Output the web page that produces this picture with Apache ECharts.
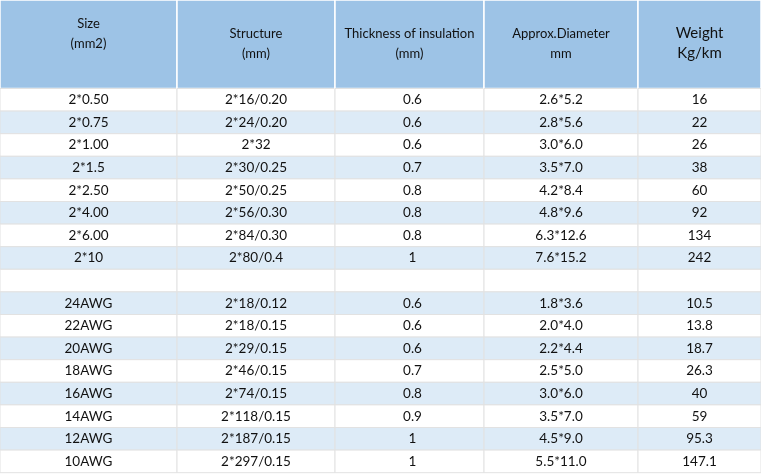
<!DOCTYPE html>
<html>
<head>
<meta charset="utf-8">
<script src="https://cdn.jsdelivr.net/npm/echarts@6/dist/echarts.min.js"></script>
<style>
html,body{margin:0;padding:0;background:#fff;}
#main{width:761px;height:474px;}
</style>
</head>
<body>
<div id="main"></div>
<script>
// ---- data ----
const headers = ['Size\n(mm2)', 'Structure\n(mm)', 'Thickness of insulation\n(mm)', 'Approx.Diameter\nmm', 'Weight\nKg/km'];
const sizes = ['2*0.50','2*0.75','2*1.00','2*1.5','2*2.50','2*4.00','2*6.00','2*10','','24AWG','22AWG','20AWG','18AWG','16AWG','14AWG','12AWG','10AWG'];
const structures = ['2*16/0.20','2*24/0.20','2*32','2*30/0.25','2*50/0.25','2*56/0.30','2*84/0.30','2*80/0.4','','2*18/0.12','2*18/0.15','2*29/0.15','2*46/0.15','2*74/0.15','2*118/0.15','2*187/0.15','2*297/0.15'];
const thickness = ['0.6','0.6','0.6','0.7','0.8','0.8','0.8','1','','0.6','0.6','0.6','0.7','0.8','0.9','1','1'];
const diameters = ['2.6*5.2','2.8*5.6','3.0*6.0','3.5*7.0','4.2*8.4','4.8*9.6','6.3*12.6','7.6*15.2','','1.8*3.6','2.0*4.0','2.2*4.4','2.5*5.0','3.0*6.0','3.5*7.0','4.5*9.0','5.5*11.0'];
const weights = ['16','22','26','38','60','92','134','242','','10.5','13.8','18.7','26.3','40','59','95.3','147.1'];

// ---- layout / style ----
const columns = [sizes, structures, thickness, diameters, weights];
const colEdges = [0, 177, 335, 484, 638, 761];
const headerH = 88.5;
const rowH = 22.6;
const headerDy = [-10, 0, 0, 0, -1];
const headerFontSize = [13, 13, 13, 13, 15];
const dataDx = [0, 0, 3, 0, 0];
const FONT = 'Lato, "Open Sans", sans-serif';

const cells = [];
for (let c = 0; c < columns.length; c++) {
  cells.push([c, -1, headers[c]]);
  for (let r = 0; r < sizes.length; r++) cells.push([c, r, columns[c][r]]);
}

const chart = echarts.init(document.getElementById('main'), null, {renderer: 'canvas'});
chart.setOption({
  animation: false,
  backgroundColor: '#ffffff',
  grid: {left: 0, right: 0, top: 0, bottom: 0},
  xAxis: {type: 'value', min: 0, max: 761, show: false},
  yAxis: {type: 'value', min: 0, max: 474, inverse: true, show: false},
  series: [{
    type: 'custom',
    coordinateSystem: 'cartesian2d',
    data: cells,
    renderItem: function (params, api) {
      const c = api.value(0), r = api.value(1);
      const text = cells[params.dataIndex][2];
      const x0 = colEdges[c], x1 = colEdges[c + 1];
      const y0 = r < 0 ? 0 : headerH + r * rowH;
      const y1 = r < 0 ? headerH : y0 + rowH;
      const p0 = api.coord([x0, y0]);
      const p1 = api.coord([x1, y1]);
      const isHeader = r < 0;
      const fill = isHeader ? '#9dc3e6' : (r % 2 === 1 ? '#ddebf7' : '#ffffff');
      const stroke = isHeader ? '#ffffff' : '#e2e2e2';
      const cx = (p0[0] + p1[0]) / 2 + (isHeader ? 0 : dataDx[c]);
      const cy = (p0[1] + p1[1]) / 2 + (isHeader ? headerDy[c] : 0);
      return {
        type: 'group',
        children: [{
          type: 'rect',
          shape: {x: p0[0], y: p0[1], width: p1[0] - p0[0], height: p1[1] - p0[1]},
          style: {fill: fill, stroke: stroke, lineWidth: isHeader ? 1.5 : 1}
        }, {
          type: 'text',
          style: {
            text: text,
            x: cx, y: cy,
            align: 'center', verticalAlign: 'middle',
            fontFamily: FONT,
            fontSize: isHeader ? headerFontSize[c] : 13.5,
            lineHeight: isHeader ? 20 : 16,
            fill: '#111111'
          }
        }]
      };
    }
  }]
});
</script>
</body>
</html>
